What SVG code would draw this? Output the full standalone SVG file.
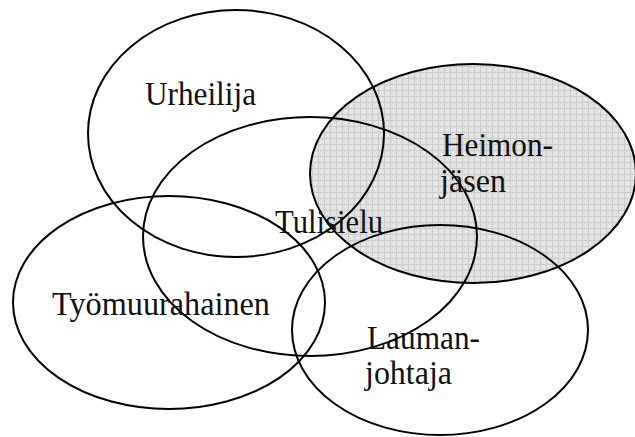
<svg xmlns="http://www.w3.org/2000/svg" width="635" height="437" viewBox="0 0 635 437">
<style>
.e{fill:none;stroke:#000;stroke-width:2}
.t{font-family:"Liberation Serif","Times New Roman",serif;font-size:33px;fill:#111}
</style>
<defs>
<pattern id="grid" width="6" height="6" patternUnits="userSpaceOnUse">
<rect width="6" height="6" fill="#e3e3e3"/>
<path d="M0 0.5H6M0.5 0V6" stroke="#cbcbcb" stroke-width="1"/>
<rect x="3" y="3" width="1" height="1" fill="#f2f2f2"/>
</pattern>
</defs>
<g id="heimonjasen">
<ellipse cx="473" cy="173.5" rx="163" ry="109.5" fill="url(#grid)" stroke="#000" stroke-width="2"/>
<text class="t" x="442" y="156" textLength="111" lengthAdjust="spacingAndGlyphs">Heimon-</text>
<text class="t" x="440" y="192" textLength="66" lengthAdjust="spacingAndGlyphs">jäsen</text>
</g>
<g id="urheilija">
<ellipse class="e" cx="236" cy="133.5" rx="148" ry="123.5"/>
<text class="t" x="145" y="105" textLength="111" lengthAdjust="spacingAndGlyphs">Urheilija</text>
</g>
<g id="tulisielu">
<ellipse class="e" cx="310" cy="236.5" rx="167" ry="119.5"/>
<text class="t" x="275" y="233" textLength="108" lengthAdjust="spacingAndGlyphs">Tulisielu</text>
</g>
<g id="tyomuurahainen">
<ellipse class="e" cx="169" cy="302.5" rx="156" ry="106.5"/>
<text class="t" x="52" y="315" textLength="218" lengthAdjust="spacingAndGlyphs">Työmuurahainen</text>
</g>
<g id="laumanjohtaja">
<ellipse class="e" cx="440" cy="330" rx="148" ry="105"/>
<text class="t" x="367" y="349" textLength="113" lengthAdjust="spacingAndGlyphs">Lauman-</text>
<text class="t" x="365" y="384" textLength="87" lengthAdjust="spacingAndGlyphs">johtaja</text>
</g>
<g id="connectors"/>
</svg>
